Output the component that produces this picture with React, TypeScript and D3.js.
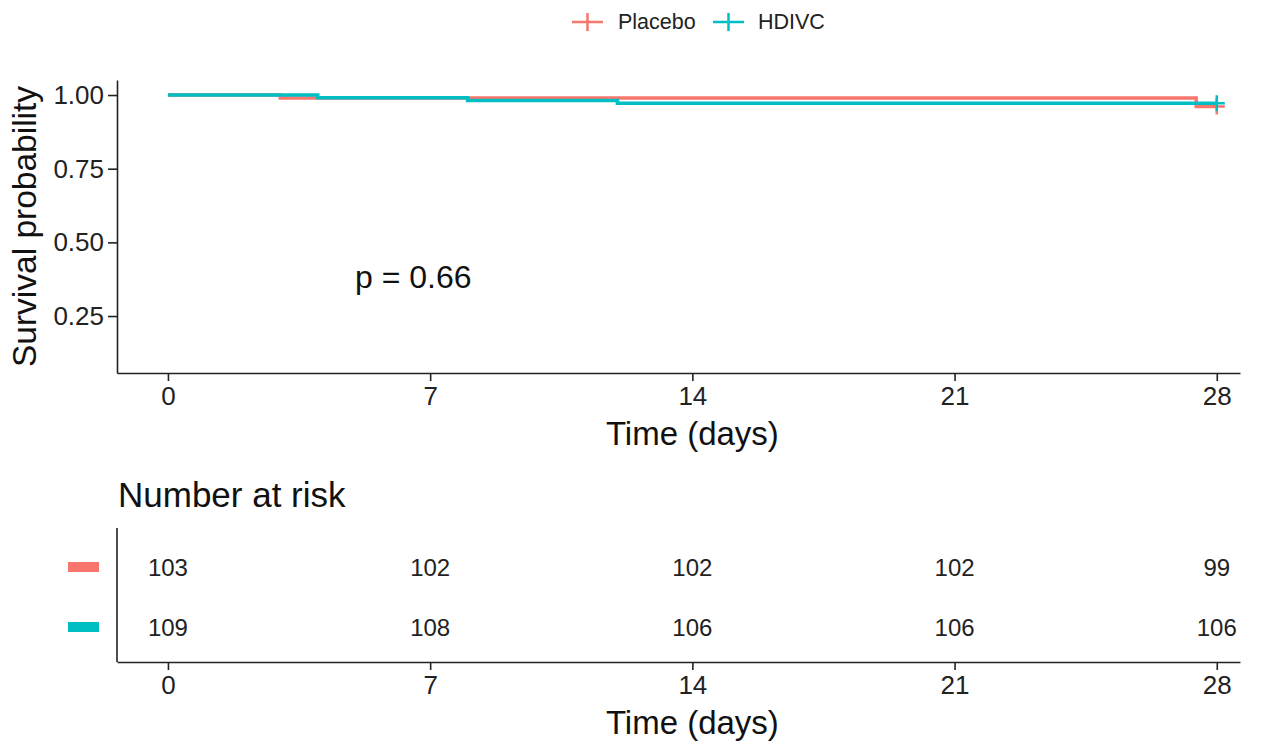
import React, { useEffect, useRef } from "react";
import * as d3 from "d3";

// survival curves (step after)
const placeboTimes = [0, 3, 27.45, 28];
const placeboSurv = [1, 0.9903, 0.9612, 0.9612];
const hdivcTimes = [0, 4, 8, 12, 28];
const hdivcSurv = [1, 0.9908, 0.9817, 0.9725, 0.9725];

const groups = ["Placebo", "HDIVC"];
const colors = ["#F8766D", "#00BFC4"];
const xTicks = [0, 7, 14, 21, 28];
const yTicks = [0.25, 0.5, 0.75, 1.0];
const riskPlacebo = [103, 102, 102, 102, 99];
const riskHdivc = [109, 108, 106, 106, 106];
const pValueLabel = "p = 0.66";

const FONT = "'Liberation Sans', Arial, sans-serif";
const AXIS = "#222";

export default function App() {
  const ref = useRef<SVGSVGElement | null>(null);

  useEffect(() => {
    const svg = d3.select(ref.current);
    svg.selectAll("*").remove();

    const x = d3.scaleLinear().domain([-1.36, 28.62]).range([117, 1240]);
    const y = d3.scaleLinear().domain([0.0567, 1.051]).range([373, 80]);

    // ---- top panel ----
    const top = svg.append("g");
    const xAxis = top
      .append("g")
      .attr("transform", "translate(0,373)")
      .call(d3.axisBottom(x).tickValues(xTicks).tickSize(8).tickPadding(6).tickSizeOuter(0));
    const yAxis = top
      .append("g")
      .attr("transform", "translate(117,0)")
      .call(d3.axisLeft(y).tickValues(yTicks).tickSize(9).tickPadding(4).tickFormat(d3.format(".2f")).tickSizeOuter(0));

    [xAxis, yAxis].forEach((a) => {
      a.select(".domain").attr("stroke", AXIS).attr("stroke-width", 1.6);
      a.selectAll(".tick line").attr("stroke", AXIS).attr("stroke-width", 1.6);
      a.selectAll(".tick text").attr("fill", "#222").style("font-family", FONT).style("font-size", "26px");
    });

    top
      .append("text")
      .attr("x", (x(0) + x(28)) / 2)
      .attr("y", 445)
      .attr("text-anchor", "middle")
      .style("font-family", FONT)
      .style("font-size", "33px")
      .attr("fill", "#111")
      .text("Time (days)");

    top
      .append("text")
      .attr("transform", `translate(36,${(80 + 373) / 2}) rotate(-90)`)
      .attr("text-anchor", "middle")
      .style("font-family", FONT)
      .style("font-size", "33.5px")
      .attr("fill", "#111")
      .text("Survival probability");

    top
      .append("text")
      .attr("x", 355)
      .attr("y", 288)
      .style("font-family", FONT)
      .style("font-size", "32px")
      .attr("fill", "#111")
      .text(pValueLabel);

    const line = d3
      .line<[number, number]>()
      .x((d) => x(d[0]))
      .y((d) => y(d[1]))
      .curve(d3.curveStepAfter);

    const series = [
      { t: placeboTimes, s: placeboSurv, c: colors[0] },
      { t: hdivcTimes, s: hdivcSurv, c: colors[1] },
    ];
    series.forEach((ser) => {
      const pts = ser.t.map((t, i) => [t, ser.s[i]] as [number, number]);
      top
        .append("path")
        .attr("d", line(pts))
        .attr("fill", "none")
        .attr("stroke", ser.c)
        .attr("stroke-width", 3.5);
    });
    // censor marks at the end
    series.forEach((ser) => {
      const cx = x(ser.t[ser.t.length - 1]);
      const cy = y(ser.s[ser.s.length - 1]);
      top
        .append("path")
        .attr("d", `M${cx - 8},${cy}H${cx + 8}M${cx},${cy - 8}V${cy + 8}`)
        .attr("stroke", ser.c)
        .attr("stroke-width", 2.5);
    });

    // legend
    const legX = [572, 713];
    const legTextX = [618, 758];
    groups.forEach((g, i) => {
      svg
        .append("path")
        .attr("d", `M${legX[i]},22H${legX[i] + 31}M${legX[i] + 15.5},13V31`)
        .attr("stroke", colors[i])
        .attr("stroke-width", 2.5);
      svg
        .append("text")
        .attr("x", legTextX[i])
        .attr("y", 29)
        .style("font-family", FONT)
        .style("font-size", "21.5px")
        .attr("fill", "#222")
        .text(g);
    });

    // ---- risk table ----
    const rowY = d3.scalePoint<string>().domain(groups).range([567, 627]);
    const tab = svg.append("g");
    tab
      .append("text")
      .attr("x", 118)
      .attr("y", 507)
      .style("font-family", FONT)
      .style("font-size", "35px")
      .attr("fill", "#111")
      .text("Number at risk");

    const tx = tab
      .append("g")
      .attr("transform", "translate(0,662)")
      .call(d3.axisBottom(x).tickValues(xTicks).tickSize(8).tickPadding(6).tickSizeOuter(0));
    tx.select(".domain").attr("stroke", AXIS).attr("stroke-width", 1.6);
    tx.selectAll(".tick line").attr("stroke", AXIS).attr("stroke-width", 1.6);
    tx.selectAll(".tick text").attr("fill", "#222").style("font-family", FONT).style("font-size", "26px");

    tab.append("line").attr("x1", 117).attr("x2", 117).attr("y1", 528).attr("y2", 662).attr("stroke", AXIS).attr("stroke-width", 1.6);

    tab
      .append("text")
      .attr("x", (x(0) + x(28)) / 2)
      .attr("y", 734)
      .attr("text-anchor", "middle")
      .style("font-family", FONT)
      .style("font-size", "33px")
      .attr("fill", "#111")
      .text("Time (days)");

    const rows = [riskPlacebo, riskHdivc];
    groups.forEach((g, i) => {
      const yy = rowY(g) as number;
      tab.append("rect").attr("x", 68).attr("y", yy - 5).attr("width", 31).attr("height", 10).attr("fill", colors[i]);
      tab
        .selectAll(`.risk${i}`)
        .data(rows[i])
        .join("text")
        .attr("class", `risk${i}`)
        .attr("x", (_d, j) => x(xTicks[j]))
        .attr("y", yy + 8.5)
        .attr("text-anchor", "middle")
        .style("font-family", FONT)
        .style("font-size", "24px")
        .attr("fill", "#222")
        .text((d) => String(d));
    });
  }, []);

  return (
    <svg
      ref={ref}
      width={1264}
      height={747}
      style={{ position: "absolute", left: 0, top: 0, background: "#fff" }}
    />
  );
}
